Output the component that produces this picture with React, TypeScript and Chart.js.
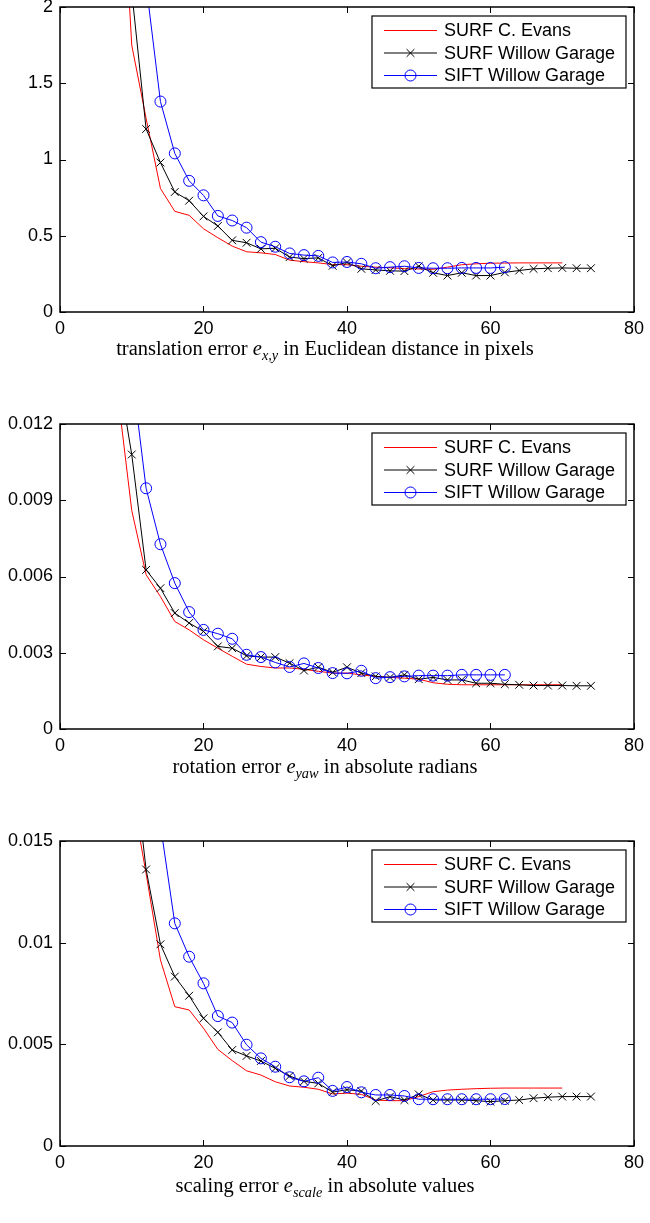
import React, { useEffect, useRef } from 'react';
import { Chart, registerables } from 'chart.js';
Chart.register(...registerables);

const X_TICKS = [0, 20, 40, 60, 80];
const X_TICK_LABELS = ['0', '20', '40', '60', '80'];
const SERIES_NAMES = ['SURF C. Evans', 'SURF Willow Garage', 'SIFT Willow Garage'];

// ---------- Panel 1: translation error ----------
const transEvansX = [8, 10, 12, 14, 16, 18, 20, 22, 24, 26, 28, 30, 32, 34, 36, 38, 40, 42, 44, 46, 48, 50, 52, 54, 56, 58, 60, 62, 64, 66, 68, 70];
const transEvansY = [3.4, 1.75, 1.27, 0.81, 0.66, 0.634, 0.546, 0.487, 0.432, 0.395, 0.388, 0.377, 0.34, 0.33, 0.322, 0.311, 0.31, 0.3, 0.294, 0.29, 0.284, 0.282, 0.28, 0.294, 0.31, 0.316, 0.32, 0.321, 0.322, 0.322, 0.322, 0.322];
const transSurfX = [10, 12, 14, 16, 18, 20, 22, 24, 26, 28, 30, 32, 34, 36, 38, 40, 42, 44, 46, 48, 50, 52, 54, 56, 58, 60, 62, 64, 66, 68, 70, 72, 74];
const transSurfY = [2.1, 1.2, 0.98, 0.787, 0.73, 0.627, 0.564, 0.47, 0.454, 0.414, 0.418, 0.36, 0.35, 0.355, 0.303, 0.325, 0.283, 0.276, 0.27, 0.268, 0.3, 0.257, 0.239, 0.257, 0.239, 0.239, 0.26, 0.272, 0.283, 0.287, 0.289, 0.287, 0.287];
const transSiftX = [12, 14, 16, 18, 20, 22, 24, 26, 28, 30, 32, 34, 36, 38, 40, 42, 44, 46, 48, 50, 52, 54, 56, 58, 60, 62];
const transSiftY = [2.15, 1.38, 1.04, 0.86, 0.765, 0.63, 0.6, 0.553, 0.458, 0.428, 0.384, 0.373, 0.368, 0.325, 0.328, 0.316, 0.287, 0.294, 0.3, 0.289, 0.287, 0.287, 0.289, 0.289, 0.289, 0.294];
const transYTicks = [0, 0.5, 1, 1.5, 2];
const transYTickLabels = ['0', '0.5', '1', '1.5', '2'];

// ---------- Panel 2: rotation error ----------
const rotEvansX = [8, 10, 12, 14, 16, 18, 20, 22, 24, 26, 28, 30, 32, 34, 36, 38, 40, 42, 44, 46, 48, 50, 52, 54, 56, 58, 60, 62, 64, 66, 68, 70];
const rotEvansY = [0.0133, 0.0086, 0.00607, 0.00521, 0.00423, 0.0039, 0.00351, 0.00318, 0.00286, 0.00255, 0.00246, 0.0024, 0.0024, 0.00235, 0.00227, 0.0022, 0.0022, 0.00213, 0.00207, 0.00203, 0.002, 0.00196, 0.00182, 0.00176, 0.00174, 0.00174, 0.00174, 0.00174, 0.00174, 0.00174, 0.00174, 0.00174];
const rotSurfX = [8, 10, 12, 14, 16, 18, 20, 22, 24, 26, 28, 30, 32, 34, 36, 38, 40, 42, 44, 46, 48, 50, 52, 54, 56, 58, 60, 62, 64, 66, 68, 70, 72, 74];
const rotSurfY = [0.0142, 0.0108, 0.00626, 0.00554, 0.00456, 0.00417, 0.00384, 0.00325, 0.00318, 0.00288, 0.00283, 0.00283, 0.00259, 0.0023, 0.00243, 0.00223, 0.00243, 0.0022, 0.00207, 0.00203, 0.00213, 0.00196, 0.00203, 0.00193, 0.00193, 0.0018, 0.0018, 0.00176, 0.00174, 0.00171, 0.00171, 0.00171, 0.0017, 0.0017];
const rotSiftX = [10, 12, 14, 16, 18, 20, 22, 24, 26, 28, 30, 32, 34, 36, 38, 40, 42, 44, 46, 48, 50, 52, 54, 56, 58, 60, 62];
const rotSiftY = [0.0141, 0.00947, 0.00727, 0.00574, 0.0046, 0.0039, 0.00375, 0.00355, 0.00292, 0.00283, 0.00262, 0.00244, 0.00258, 0.0024, 0.0022, 0.00219, 0.00229, 0.002, 0.00204, 0.00207, 0.0021, 0.0021, 0.0021, 0.00213, 0.00213, 0.00213, 0.00213];
const rotYTicks = [0, 0.003, 0.006, 0.009, 0.012];
const rotYTickLabels = ['0', '0.003', '0.006', '0.009', '0.012'];

// ---------- Panel 3: scaling error ----------
const scaleEvansX = [10, 12, 14, 16, 18, 20, 22, 24, 26, 28, 30, 32, 34, 36, 38, 40, 42, 44, 46, 48, 50, 52, 54, 56, 58, 60, 62, 64, 66, 68, 70];
const scaleEvansY = [0.0174, 0.0134, 0.00915, 0.00685, 0.00669, 0.00579, 0.00475, 0.0042, 0.0037, 0.00349, 0.00316, 0.00295, 0.00289, 0.00279, 0.00256, 0.0026, 0.00254, 0.00226, 0.00223, 0.00223, 0.00243, 0.00267, 0.00275, 0.00279, 0.00282, 0.00284, 0.00285, 0.00285, 0.00285, 0.00285, 0.00285];
const scaleSurfX = [10, 12, 14, 16, 18, 20, 22, 24, 26, 28, 30, 32, 34, 36, 38, 40, 42, 44, 46, 48, 50, 52, 54, 56, 58, 60, 62, 64, 66, 68, 70, 72, 74];
const scaleSurfY = [0.0198, 0.0136, 0.00992, 0.00833, 0.00739, 0.00628, 0.00559, 0.00472, 0.00443, 0.00418, 0.00382, 0.00344, 0.00318, 0.00308, 0.00265, 0.00277, 0.0027, 0.00221, 0.00243, 0.00226, 0.00254, 0.00226, 0.00226, 0.00226, 0.00223, 0.00218, 0.00223, 0.00226, 0.00235, 0.0024, 0.00243, 0.00243, 0.00243];
const scaleSiftX = [14, 16, 18, 20, 22, 24, 26, 28, 30, 32, 34, 36, 38, 40, 42, 44, 46, 48, 50, 52, 54, 56, 58, 60, 62];
const scaleSiftY = [0.0158, 0.01095, 0.00931, 0.008, 0.00639, 0.00607, 0.00498, 0.00431, 0.0039, 0.00338, 0.00318, 0.00336, 0.00271, 0.0029, 0.00264, 0.00251, 0.00251, 0.00246, 0.0023, 0.0023, 0.0023, 0.0023, 0.0023, 0.0023, 0.00231];
const scaleYTicks = [0, 0.005, 0.01, 0.015];
const scaleYTickLabels = ['0', '0.005', '0.01', '0.015'];

const SANS = "'Liberation Sans', Arial, Helvetica, sans-serif";
const SERIF = "'Liberation Serif', 'Times New Roman', serif";

function pts(xs: number[], ys: number[]) {
  return xs.map((x, i) => ({ x, y: ys[i] }));
}

function drawMarker(ctx: CanvasRenderingContext2D, style: string, x: number, y: number, r: number, color: string) {
  ctx.save();
  ctx.strokeStyle = color;
  ctx.lineWidth = 1;
  ctx.beginPath();
  if (style === 'circle') {
    ctx.arc(x, y, r, 0, Math.PI * 2);
  } else if (style === 'crossRot') {
    const o = r * Math.SQRT1_2;
    ctx.moveTo(x - o, y - o);
    ctx.lineTo(x + o, y + o);
    ctx.moveTo(x + o, y - o);
    ctx.lineTo(x - o, y + o);
  }
  ctx.stroke();
  ctx.restore();
}

function makeFramePlugin(yTicks: number[]) {
  return {
    id: 'matlabFrame',
    afterDatasetsDraw(chart: any) {
      const { ctx, chartArea: a, scales } = chart;
      const xs = scales.x;
      const ys = scales.y;
      ctx.save();
      ctx.strokeStyle = '#000';
      ctx.lineWidth = 1;
      ctx.beginPath();
      const tl = 6;
      for (const v of X_TICKS) {
        const px = Math.round(xs.getPixelForValue(v)) + 0.5;
        ctx.moveTo(px, a.bottom);
        ctx.lineTo(px, a.bottom - tl);
        ctx.moveTo(px, a.top);
        ctx.lineTo(px, a.top + tl);
      }
      for (const v of yTicks) {
        const py = Math.round(ys.getPixelForValue(v)) + 0.5;
        ctx.moveTo(a.left, py);
        ctx.lineTo(a.left + tl, py);
        ctx.moveTo(a.right, py);
        ctx.lineTo(a.right - tl, py);
      }
      ctx.stroke();
      ctx.lineWidth = 1.5;
      ctx.strokeRect(a.left, a.top, a.right - a.left, a.bottom - a.top);

      // legend
      const boxRight = a.right - 8;
      const boxLeft = boxRight - 254;
      const boxTop = a.top + 9;
      const boxBottom = a.top + 81;
      ctx.fillStyle = '#fff';
      ctx.fillRect(boxLeft, boxTop, boxRight - boxLeft, boxBottom - boxTop);
      ctx.lineWidth = 1.2;
      ctx.strokeStyle = '#000';
      ctx.strokeRect(boxLeft, boxTop, boxRight - boxLeft, boxBottom - boxTop);
      const rows = [23.5, 46, 68.5];
      chart.data.datasets.forEach((ds: any, i: number) => {
        const y = a.top + rows[i];
        const x1 = boxLeft + 12;
        const x2 = boxLeft + 65;
        ctx.strokeStyle = ds.borderColor;
        ctx.lineWidth = 1;
        ctx.beginPath();
        ctx.moveTo(x1, y);
        ctx.lineTo(x2, y);
        ctx.stroke();
        if (ds.pointStyle) {
          drawMarker(ctx, ds.pointStyle, (x1 + x2) / 2, y, ds.pointRadius, ds.pointBorderColor);
        }
        ctx.fillStyle = '#000';
        ctx.font = `18px ${SANS}`;
        ctx.textBaseline = 'middle';
        ctx.textAlign = 'left';
        ctx.fillText(ds.label, boxLeft + 72, y + 1);
      });
      ctx.restore();
    },
  };
}

type PanelProps = {
  top: number;
  yMax: number;
  yTicks: number[];
  yTickLabels: string[];
  series: { x: number[]; y: number[] }[];
};

function Panel({ top, yMax, yTicks, yTickLabels, series }: PanelProps) {
  const ref = useRef<HTMLCanvasElement | null>(null);
  useEffect(() => {
    if (!ref.current) return;
    const chart = new Chart(ref.current, {
      type: 'line',
      data: {
        datasets: [
          {
            label: SERIES_NAMES[0],
            data: pts(series[0].x, series[0].y),
            borderColor: '#ff0000',
            borderWidth: 1,
            pointRadius: 0,
            pointStyle: false as any,
            order: 2,
          },
          {
            label: SERIES_NAMES[1],
            data: pts(series[1].x, series[1].y),
            borderColor: '#000000',
            borderWidth: 1,
            pointStyle: 'crossRot',
            pointRadius: 5.5,
            pointBorderColor: '#000000',
            pointBorderWidth: 1,
            pointBackgroundColor: 'rgba(0,0,0,0)',
            order: 1,
          },
          {
            label: SERIES_NAMES[2],
            data: pts(series[2].x, series[2].y),
            borderColor: '#0000ff',
            borderWidth: 1,
            pointStyle: 'circle',
            pointRadius: 5.5,
            pointBorderColor: '#0000ff',
            pointBorderWidth: 1,
            pointBackgroundColor: 'rgba(0,0,0,0)',
            order: 0,
          },
        ] as any,
      },
      options: {
        animation: false,
        responsive: false,
        maintainAspectRatio: false,
        devicePixelRatio: 1,
        layout: { padding: { top: 20, right: 13, left: 0, bottom: 0 } },
        plugins: { legend: { display: false }, tooltip: { enabled: false }, title: { display: false } },
        elements: { line: { tension: 0 } },
        scales: {
          x: {
            type: 'linear',
            min: 0,
            max: 80,
            grid: { display: false, drawTicks: false },
            border: { display: false },
            afterBuildTicks: (s: any) => {
              s.ticks = X_TICKS.map((v) => ({ value: v }));
            },
            afterFit: (s: any) => {
              s.height = 40;
            },
            ticks: {
              autoSkip: false,
              maxRotation: 0,
              padding: 6,
              color: '#000',
              font: { family: SANS, size: 18 },
              callback: (_v: any, i: number) => X_TICK_LABELS[i],
            },
          },
          y: {
            type: 'linear',
            min: 0,
            max: yMax,
            grid: { display: false, drawTicks: false },
            border: { display: false },
            afterBuildTicks: (s: any) => {
              s.ticks = yTicks.map((v) => ({ value: v }));
            },
            afterFit: (s: any) => {
              s.width = 60;
            },
            ticks: {
              autoSkip: false,
              padding: 7,
              color: '#000',
              font: { family: SANS, size: 18 },
              callback: (_v: any, i: number) => yTickLabels[i],
            },
          },
        },
      } as any,
      plugins: [makeFramePlugin(yTicks)],
    });
    return () => chart.destroy();
  }, []);
  return (
    <canvas
      ref={ref}
      width={650}
      height={365}
      style={{ position: 'absolute', left: 0, top: top - 20, width: 650, height: 365 }}
    />
  );
}

function Caption({ top, children }: { top: number; children: React.ReactNode }) {
  return (
    <div
      style={{
        position: 'absolute',
        left: 0,
        top,
        width: 650,
        textAlign: 'center',
        fontFamily: SERIF,
        fontSize: 20.5,
        lineHeight: '26px',
        color: '#000',
        whiteSpace: 'nowrap',
      }}
    >
      {children}
    </div>
  );
}

const subStyle: React.CSSProperties = { fontSize: '0.7em', fontStyle: 'italic', verticalAlign: '-0.35em', lineHeight: 0 };

export default function App() {
  return (
    <div style={{ position: 'absolute', left: 0, top: 0, width: 650, height: 1223, background: '#fff', overflow: 'hidden' }}>
      <Panel
        top={7}
        yMax={2}
        yTicks={transYTicks}
        yTickLabels={transYTickLabels}
        series={[
          { x: transEvansX, y: transEvansY },
          { x: transSurfX, y: transSurfY },
          { x: transSiftX, y: transSiftY },
        ]}
      />
      <Caption top={335}>
        translation error <i>e</i>
        <span style={subStyle}>x,y</span> in Euclidean distance in pixels
      </Caption>
      <Panel
        top={424}
        yMax={0.012}
        yTicks={rotYTicks}
        yTickLabels={rotYTickLabels}
        series={[
          { x: rotEvansX, y: rotEvansY },
          { x: rotSurfX, y: rotSurfY },
          { x: rotSiftX, y: rotSiftY },
        ]}
      />
      <Caption top={753}>
        rotation error <i>e</i>
        <span style={subStyle}>yaw</span> in absolute radians
      </Caption>
      <Panel
        top={841}
        yMax={0.015}
        yTicks={scaleYTicks}
        yTickLabels={scaleYTickLabels}
        series={[
          { x: scaleEvansX, y: scaleEvansY },
          { x: scaleSurfX, y: scaleSurfY },
          { x: scaleSiftX, y: scaleSiftY },
        ]}
      />
      <Caption top={1172}>
        scaling error <i>e</i>
        <span style={subStyle}>scale</span> in absolute values
      </Caption>
    </div>
  );
}
